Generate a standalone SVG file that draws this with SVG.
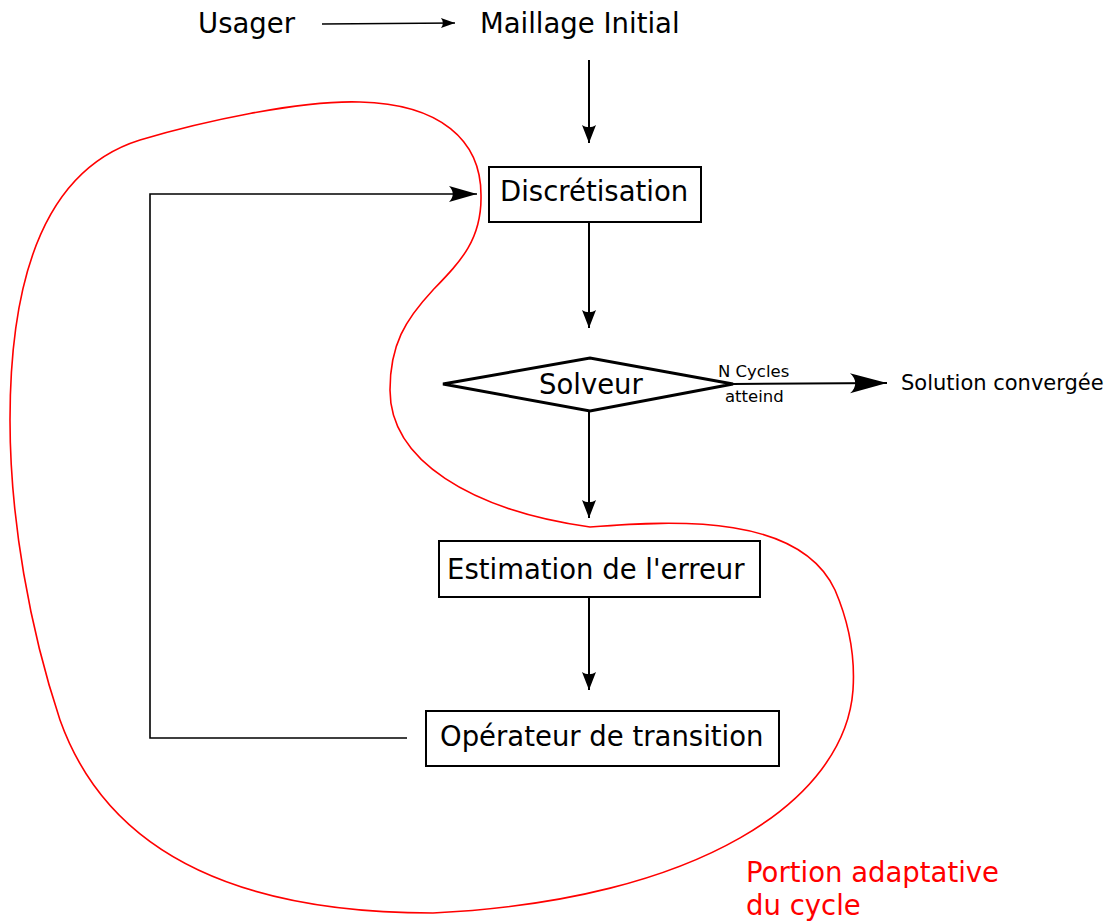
<svg xmlns="http://www.w3.org/2000/svg" width="1110" height="922" viewBox="0 0 1110 922">
  <style>
    .lbl { font-family: "DejaVu Sans", "Liberation Sans", sans-serif; fill: #000; }
    .main { font-size: 27.5px; }
    .small { font-size: 16.5px; }
    .mid { font-size: 21px; }
    .box { fill: #fff; stroke: #000; stroke-width: 2; }
    .edge { fill: none; stroke: #000; stroke-width: 2; }
    .thin { fill: none; stroke: #000; stroke-width: 1.6; }
    .zone { fill: none; stroke: #ff0000; stroke-width: 1.6; }
    .zone-lbl { font-family: "DejaVu Sans", "Liberation Sans", sans-serif; font-size: 27.5px; fill: #ff0000; }
  </style>
  <defs>
    <marker id="head-s" markerUnits="userSpaceOnUse" markerWidth="20" markerHeight="12" refX="14" refY="5" orient="auto" overflow="visible">
      <path d="M14 5 L0 0 C2.5 3.5 2.5 6.5 0 10 Z" fill="#000"/>
    </marker>
    <marker id="head-m" markerUnits="userSpaceOnUse" markerWidth="20" markerHeight="16" refX="18" refY="7" orient="auto" overflow="visible">
      <path d="M18 7 L0 0 C3 4.5 3 9.5 0 14 Z" fill="#000"/>
    </marker>
    <marker id="head-l" markerUnits="userSpaceOnUse" markerWidth="30" markerHeight="18" refX="28" refY="8" orient="auto" overflow="visible">
      <path d="M28 8 L0 0 C5 5 5 11 0 16 Z" fill="#000"/>
    </marker>
    <marker id="head-xl" markerUnits="userSpaceOnUse" markerWidth="38" markerHeight="22" refX="37" refY="10" orient="auto" overflow="visible">
      <path d="M37 10 L0 0 C7 6 7 14 0 20 Z" fill="#000"/>
    </marker>
  </defs>

  <!-- adaptive part of the cycle -->
  <g id="adaptive-zone">
    <path class="zone" d="M140 140 C200 122 300 100 360 102 C440 104 481 140 481 195 C482 240 460 262 433 290 C405 320 390 345 390 390 C390 460 470 510 590 527 C680 520 800 515 835 590 C850 625 855 660 853 690 C845 800 700 900 433 913 C250 913 110 860 60 720 C30 630 10 520 10 420 C10 250 60 165 140 140 Z"/>
    <text class="zone-lbl" x="746" y="882">Portion adaptative</text>
    <text class="zone-lbl" x="746" y="915">du cycle</text>
  </g>

  <g id="connectors">
    <line class="thin" x1="322" y1="24" x2="455" y2="23" marker-end="url(#head-s)"/>
    <line class="edge" x1="589" y1="60" x2="589" y2="143" marker-end="url(#head-m)"/>
    <line class="edge" x1="589" y1="222" x2="589" y2="328" marker-end="url(#head-m)"/>
    <line class="edge" x1="733" y1="384" x2="887" y2="383" marker-end="url(#head-xl)"/>
    <line class="edge" x1="589" y1="411" x2="589" y2="518" marker-end="url(#head-m)"/>
    <line class="edge" x1="589" y1="597" x2="589" y2="690" marker-end="url(#head-m)"/>
    <polyline class="thin" points="407,738 150,738 150,194 477,194" marker-end="url(#head-l)"/>
    <text class="lbl small" x="718" y="377">N Cycles</text>
    <text class="lbl small" x="725" y="402">atteind</text>
  </g>

  <g id="usager">
    <text class="lbl main" x="198" y="33">Usager</text>
  </g>

  <g id="maillage-initial">
    <text class="lbl main" x="480" y="33">Maillage Initial</text>
  </g>

  <g id="discretisation">
    <rect class="box" x="489" y="167" width="212" height="55"/>
    <text class="lbl main" x="500" y="201">Discrétisation</text>
  </g>

  <g id="solveur">
    <polygon points="443,384 590,358 733,384 590,411" fill="#fff" stroke="#000" stroke-width="3" stroke-linejoin="miter"/>
    <text class="lbl main" x="539" y="394">Solveur</text>
  </g>

  <g id="solution">
    <text class="lbl mid" x="901" y="390">Solution convergée</text>
  </g>

  <g id="estimation">
    <rect class="box" x="439" y="541" width="321" height="56"/>
    <text class="lbl main" x="447" y="579">Estimation de l'erreur</text>
  </g>

  <g id="operateur">
    <rect class="box" x="426" y="711" width="353" height="55"/>
    <text class="lbl main" x="440" y="746">Opérateur de transition</text>
  </g>
</svg>
